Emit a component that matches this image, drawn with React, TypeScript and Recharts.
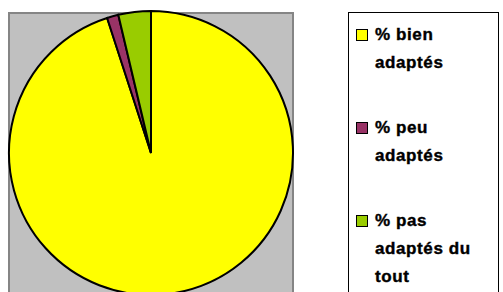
import React from 'react';
import { PieChart, Pie, Cell, Legend } from 'recharts';

const labels = ['% bien adaptés', '% peu adaptés', '% pas adaptés du tout'];
const shares = [95, 1.3, 3.7];
const colors = ['#FFFF00', '#993366', '#99CC00'];

// legend lines are broken by hand like in the original
const legendLines = [
  ['% bien', 'adaptés'],
  ['% peu', 'adaptés'],
  ['% pas', 'adaptés du', 'tout'],
];

const data = labels.map((name, i) => ({ name, value: shares[i] }));

const renderLegend = (props: any) => {
  const { payload } = props;
  return (
    <div
      style={{
        width: 151,
        height: 290,
        border: '1px solid #000',
        boxSizing: 'border-box',
        background: '#fff',
        paddingTop: 8,
        fontFamily: 'Arial, "Liberation Sans", sans-serif',
        fontWeight: 700,
        fontSize: 17,
        letterSpacing: 0.6,
        lineHeight: '28px',
        color: '#000',
        WebkitTextStroke: '0.4px #000',
      }}
    >
      {payload.map((entry: any, i: number) => (
        <div key={i} style={{ position: 'relative', paddingLeft: 26, marginBottom: 37 }}>
          <span
            style={{
              position: 'absolute',
              left: 7,
              top: 8,
              width: 10,
              height: 10,
              border: '1.5px solid #000',
              background: colors[i],
            }}
          />
          {legendLines[i].map((l, j) => (
            <div key={j}>{l}</div>
          ))}
        </div>
      ))}
    </div>
  );
};

const App: React.FC = () => {
  return (
    <div style={{ position: 'absolute', left: 0, top: 0, width: 503, height: 292, overflow: 'hidden', background: '#fff' }}>
      {/* grey plot area behind the pie */}
      <div
        style={{
          position: 'absolute',
          left: 8,
          top: 12,
          width: 286,
          height: 292,
          background: '#C0C0C0',
          border: '2px solid #858585',
          boxSizing: 'border-box',
        }}
      />
      <div style={{ position: 'absolute', left: 0, top: 0 }}>
        <PieChart width={503} height={292} margin={{ top: 0, right: 0, bottom: 0, left: 0 }}>
          <Pie
            data={data}
            dataKey="value"
            nameKey="name"
            cx={151}
            cy={153}
            outerRadius={142}
            startAngle={90}
            endAngle={-270}
            stroke="#000"
            strokeWidth={2}
            isAnimationActive={false}
          >
            {data.map((d, i) => (
              <Cell key={d.name} fill={colors[i]} />
            ))}
          </Pie>
          <Legend
            content={renderLegend}
            layout="vertical"
            wrapperStyle={{ position: 'absolute', left: 348, top: 12, width: 151 }}
          />
        </PieChart>
      </div>
    </div>
  );
};

export default App;
